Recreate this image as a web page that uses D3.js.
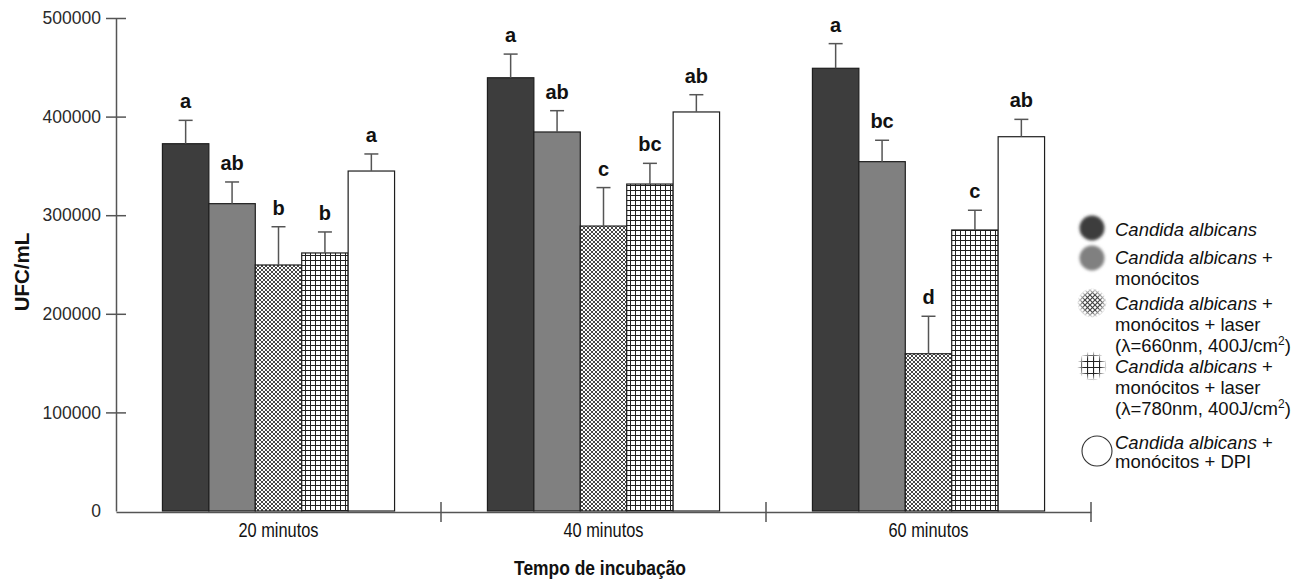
<!DOCTYPE html>
<html>
<head>
<meta charset="utf-8">
<script src="https://cdn.jsdelivr.net/npm/d3@7"></script>
<style>
  html, body { margin: 0; padding: 0; background: #fff; }
  svg { display: block; font-family: "Liberation Sans", Arial, sans-serif; }
</style>
</head>
<body>
<svg id="chart" width="1310" height="582"></svg>
<script>
// Incubation times (x groups)
const categories = ["20 minutos", "40 minutos", "60 minutos"];

// Treatment series
const seriesKeys = ["ca", "caMono", "laser660", "laser780", "dpi"];

// Mean UFC/mL per series, one value per incubation time
const caValues       = [372500, 439400, 449000];
const caMonoValues   = [311700, 384400, 354300];
const laser660Values = [249500, 289000, 159500];
const laser780Values = [261700, 331600, 285000];
const dpiValues      = [344800, 404700, 379600];

// Standard error (upper whisker) per series
const caErrors       = [23700, 24000, 25000];
const caMonoErrors   = [22000, 21600, 21700];
const laser660Errors = [38800, 39000, 38000];
const laser780Errors = [21300, 21000, 20000];
const dpiErrors      = [17300, 17500, 17600];

// Significance letters per series
const caLetters       = ["a", "a", "a"];
const caMonoLetters   = ["ab", "ab", "bc"];
const laser660Letters = ["b", "c", "d"];
const laser780Letters = ["b", "bc", "c"];
const dpiLetters      = ["a", "ab", "ab"];

// Y axis ticks
const yTicks = [0, 100000, 200000, 300000, 400000, 500000];
const yTickLabels = ["0", "100000", "200000", "300000", "400000", "500000"];

const yTitle = "UFC/mL";
const xTitle = "Tempo de incubação";

const seriesValues = [caValues, caMonoValues, laser660Values, laser780Values, dpiValues];
const seriesErrors = [caErrors, caMonoErrors, laser660Errors, laser780Errors, dpiErrors];
const seriesLetters = [caLetters, caMonoLetters, laser660Letters, laser780Letters, dpiLetters];

const rows = [];
categories.forEach((c, ci) => {
  seriesKeys.forEach((k, si) => {
    rows.push({ cat: c, key: k, value: seriesValues[si][ci], err: seriesErrors[si][ci], letter: seriesLetters[si][ci] });
  });
});

const svg = d3.select("#chart");
const defs = svg.append("defs");

// Fill patterns
const cross = defs.append("pattern").attr("id", "crossHatch")
  .attr("patternUnits", "userSpaceOnUse").attr("width", 4).attr("height", 4);
cross.append("rect").attr("width", 4).attr("height", 4).attr("fill", "#fff");
cross.append("path").attr("d", "M0,0 L4,4 M4,0 L0,4")
  .attr("stroke", "#333").attr("stroke-width", 0.9);

const grid = defs.append("pattern").attr("id", "gridHatch")
  .attr("patternUnits", "userSpaceOnUse").attr("width", 5).attr("height", 5);
grid.append("rect").attr("width", 5).attr("height", 5).attr("fill", "#fff");
grid.append("path").attr("d", "M0.5,0 V5 M0,0.5 H5")
  .attr("stroke", "#222").attr("stroke-width", 1);

// Coarser patterns for the legend swatches
const crossL = defs.append("pattern").attr("id", "crossLegend")
  .attr("patternUnits", "userSpaceOnUse").attr("width", 5).attr("height", 5);
crossL.append("rect").attr("width", 5).attr("height", 5).attr("fill", "#fff");
crossL.append("path").attr("d", "M0,0 L5,5 M5,0 L0,5")
  .attr("stroke", "#444").attr("stroke-width", 1.2);

const gridL = defs.append("pattern").attr("id", "gridLegend")
  .attr("patternUnits", "userSpaceOnUse").attr("width", 6).attr("height", 6)
  .attr("x", 1).attr("y", 1);
gridL.append("rect").attr("width", 6).attr("height", 6).attr("fill", "#fff");
gridL.append("path").attr("d", "M0.5,0 V6 M0,0.5 H6")
  .attr("stroke", "#222").attr("stroke-width", 1.2);

const blur = defs.append("filter").attr("id", "soft").attr("x", "-50%").attr("y", "-50%").attr("width", "200%").attr("height", "200%");
blur.append("feGaussianBlur").attr("stdDeviation", 1.6);

const fade = defs.append("radialGradient").attr("id", "fadeGrad");
fade.append("stop").attr("offset", "0%").attr("stop-color", "#fff");
fade.append("stop").attr("offset", "55%").attr("stop-color", "#fff");
fade.append("stop").attr("offset", "100%").attr("stop-color", "#000");

const fills = {
  ca: "#3d3d3d",
  caMono: "#808080",
  laser660: "url(#crossHatch)",
  laser780: "url(#gridHatch)",
  dpi: "#ffffff"
};
const legendFills = {
  ca: "#3d3d3d",
  caMono: "#808080",
  laser660: "url(#crossLegend)",
  laser780: "url(#gridLegend)"
};

// Scales
const x = d3.scaleBand().domain(categories).range([116, 1091]).paddingInner(0).paddingOuter(0);
const xs = d3.scaleBand().domain(seriesKeys).range([0, x.bandwidth()]).paddingInner(0).paddingOuter(1);
const y = d3.scaleLinear().domain([0, 500000]).range([511, 18]);

// Bars
const g = svg.append("g");
g.selectAll("rect.bar").data(rows).join("rect")
  .attr("class", "bar")
  .attr("x", d => x(d.cat) + xs(d.key))
  .attr("y", d => y(d.value))
  .attr("width", xs.bandwidth())
  .attr("height", d => y(0) - y(d.value))
  .attr("fill", d => fills[d.key])
  .attr("stroke", "#1e1e1e")
  .attr("stroke-width", 1.2);

// Error whiskers
const ew = g.selectAll("g.err").data(rows).join("g").attr("class", "err")
  .attr("transform", d => `translate(${x(d.cat) + xs(d.key) + xs.bandwidth() / 2},0)`);
ew.append("line")
  .attr("x1", 0).attr("x2", 0)
  .attr("y1", d => y(d.value)).attr("y2", d => y(d.value + d.err))
  .attr("stroke", "#555").attr("stroke-width", 1.5);
ew.append("line")
  .attr("x1", -7).attr("x2", 7)
  .attr("y1", d => y(d.value + d.err)).attr("y2", d => y(d.value + d.err))
  .attr("stroke", "#555").attr("stroke-width", 1.5);

// Significance letters
g.selectAll("text.letter").data(rows).join("text")
  .attr("class", "letter")
  .attr("x", d => x(d.cat) + xs(d.key) + xs.bandwidth() / 2)
  .attr("y", d => y(d.value + d.err) - 12)
  .attr("text-anchor", "middle")
  .attr("font-size", 20).attr("font-weight", "bold").attr("fill", "#111")
  .text(d => d.letter);

// Y axis
const yAxis = svg.append("g").attr("transform", "translate(116,0)")
  .call(d3.axisLeft(y).tickValues(yTicks).tickFormat((d, i) => yTickLabels[i]).tickSizeInner(10).tickSizeOuter(0).tickPadding(5));
yAxis.select(".domain").attr("stroke", "#555").attr("stroke-width", 1.5);
yAxis.selectAll(".tick line").attr("x1", -10).attr("x2", 10).attr("stroke", "#555").attr("stroke-width", 1.5)
  .filter(d => d === 0).remove();
yAxis.selectAll(".tick text").attr("font-size", 17.5).attr("fill", "#2a2a2a")
  .attr("font-family", "'Liberation Sans', Arial, sans-serif");

// X axis (category labels drawn in a horizontally condensed face)
const xAxis = svg.append("g").attr("transform", "translate(0,512)")
  .call(d3.axisBottom(x).tickSize(0).tickPadding(11));
xAxis.select(".domain").attr("stroke", "#555").attr("stroke-width", 1.5);
xAxis.selectAll(".tick text").attr("font-size", 19.5).attr("fill", "#111")
  .attr("font-family", "'Liberation Sans', Arial, sans-serif")
  .attr("transform", "scale(0.84,1)");
// Separator ticks at each group boundary
xAxis.selectAll("line.sep").data(categories).join("line")
  .attr("class", "sep")
  .attr("x1", d => x(d) + x.bandwidth()).attr("x2", d => x(d) + x.bandwidth())
  .attr("y1", -10).attr("y2", 10)
  .attr("stroke", "#555").attr("stroke-width", 1.5);

// Axis titles
svg.append("text")
  .attr("transform", "translate(29,272) rotate(-90)")
  .attr("text-anchor", "middle")
  .attr("font-size", 20.5).attr("font-weight", "bold").attr("fill", "#111")
  .text(yTitle);
svg.append("text")
  .attr("transform", "translate(600,575) scale(0.83,1)")
  .attr("text-anchor", "middle")
  .attr("font-size", 21).attr("font-weight", "bold").attr("fill", "#111")
  .text(xTitle);

// Legend
const legendItems = [
  { key: "ca", cy: 228, top: 229, lines: [[["Candida albicans", true]]] },
  { key: "caMono", cy: 258, top: 257, lines: [[["Candida albicans", true], [" +", false]], [["monócitos", false]]] },
  { key: "laser660", cy: 303, top: 303, lines: [[["Candida albicans", true], [" +", false]], [["monócitos + laser", false]], [["(λ=660nm, 400J/cm", false], ["2", "sup"], [")", false]]] },
  { key: "laser780", cy: 366, top: 366, lines: [[["Candida albicans", true], [" +", false]], [["monócitos + laser", false]], [["(λ=780nm, 400J/cm", false], ["2", "sup"], [")", false]]] },
  { key: "dpi", cy: 451, top: 442, lines: [[["Candida albicans", true], [" +", false]], [["monócitos + DPI", false]]], gap: 19 }
];

const legend = svg.append("g");
legendItems.forEach((item, idx) => {
  if (item.key === "dpi") {
    legend.append("circle").attr("cx", 1097).attr("cy", item.cy).attr("r", 15)
      .attr("fill", "#fff").attr("stroke", "#333").attr("stroke-width", 1.1);
  } else if (item.key === "ca" || item.key === "caMono") {
    legend.append("circle").attr("cx", 1092).attr("cy", item.cy).attr("r", 12.5)
      .attr("fill", legendFills[item.key]).attr("filter", "url(#soft)");
  } else {
    const m = defs.append("mask").attr("id", "fadeMask" + idx)
      .attr("maskUnits", "userSpaceOnUse")
      .attr("x", 1070).attr("y", item.cy - 22).attr("width", 44).attr("height", 44);
    m.append("circle").attr("cx", 1092).attr("cy", item.cy).attr("r", 15).attr("fill", "url(#fadeGrad)");
    legend.append("circle").attr("cx", 1092).attr("cy", item.cy).attr("r", 15)
      .attr("fill", legendFills[item.key]).attr("mask", `url(#fadeMask${idx})`);
  }
  const gap = item.gap || 21;
  item.lines.forEach((line, li) => {
    const t = legend.append("text")
      .attr("x", 1115).attr("y", item.top + li * gap + 6.5)
      .attr("font-size", 18.5).attr("fill", "#111");
    line.forEach(([str, style]) => {
      const ts = t.append("tspan").text(str);
      if (style === true) ts.attr("font-style", "italic");
      if (style === "sup") ts.attr("font-size", 12).attr("dy", -7);
      if (str === ")") ts.attr("dy", 7);
    });
  });
});
</script>
</body>
</html>
